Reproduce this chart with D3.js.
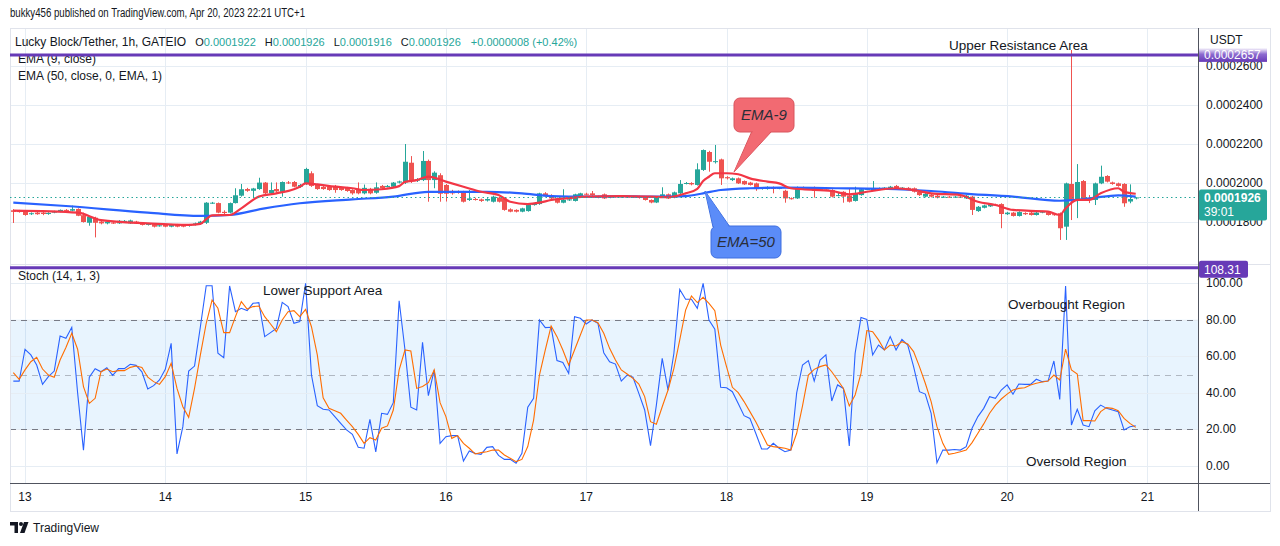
<!DOCTYPE html>
<html>
<head>
<meta charset="utf-8">
<script src="https://cdn.jsdelivr.net/npm/d3@7"></script>
<style>
  body { margin: 0; background: #fff; }
  svg { display: block; font-family: "Liberation Sans", Arial, sans-serif; }
</style>
</head>
<body>
<svg id="chart" width="1280" height="546"></svg>
<script>
// hourly candles, first one Apr 12 22:00, last one Apr 20 22:00
const firstCandle = Date.UTC(2023, 3, 12, 22);

const open = [
  0.0001860,0.0001858,0.0001853,0.0001840,0.0001848,0.0001848,0.0001841,0.0001848,0.0001853,0.0001862,
  0.0001858,0.0001867,0.0001835,0.0001796,0.0001822,0.0001802,0.0001793,0.0001797,0.0001793,0.0001797,
  0.0001793,0.0001802,0.0001793,0.0001785,0.0001789,0.0001781,0.0001785,0.0001776,0.0001785,0.0001785,
  0.0001781,0.0001785,0.0001791,0.0001796,0.0001897,0.0001897,0.0001852,0.0001848,0.0001897,0.0001935,
  0.0001969,0.0001960,0.0001969,0.0002002,0.0001947,0.0001969,0.0001955,0.0002003,0.0002005,0.0001981,
  0.0001995,0.0002050,0.0001990,0.0001980,0.0001980,0.0001985,0.0001975,0.0001975,0.0001964,0.0001964,
  0.0001947,0.0001970,0.0001950,0.0001985,0.0001981,0.0001981,0.0002002,0.0002003,0.0002104,0.0002012,
  0.0002015,0.0002113,0.0002015,0.0002040,0.0001990,0.0001959,0.0001959,0.0001955,0.0001913,0.0001918,
  0.0001916,0.0001910,0.0001904,0.0001925,0.0001921,0.0001865,0.0001862,0.0001853,0.0001856,0.0001887,
  0.0001892,0.0001947,0.0001938,0.0001921,0.0001899,0.0001913,0.0001908,0.0001930,0.0001945,0.0001947,
  0.0001925,0.0001942,0.0001925,0.0001933,0.0001928,0.0001931,0.0001927,0.0001930,0.0001928,0.0001913,
  0.0001900,0.0001930,0.0001942,0.0001925,0.0001947,0.0001997,0.0002000,0.0001990,0.0002067,0.0002159,
  0.0002107,0.0002121,0.0002030,0.0002015,0.0002024,0.0002010,0.0002002,0.0001998,0.0001970,0.0001969,
  0.0001978,0.0001972,0.0001960,0.0001922,0.0001921,0.0001978,0.0001975,0.0001978,0.0001966,0.0001972,
  0.0001964,0.0001935,0.0001955,0.0001935,0.0001908,0.0001938,0.0001968,0.0001964,0.0001970,0.0001973,
  0.0001969,0.0001985,0.0001973,0.0001975,0.0001973,0.0001955,0.0001930,0.0001940,0.0001935,0.0001928,
  0.0001930,0.0001928,0.0001930,0.0001921,0.0001930,0.0001856,0.0001873,0.0001880,0.0001890,0.0001892,
  0.0001840,0.0001848,0.0001831,0.0001846,0.0001848,0.0001836,0.0001848,0.0001850,0.0001840,0.0001845,
  0.0001776,0.0001995,0.0001918,0.0002010,0.0001921,0.0001913,0.0001998,0.0002036,0.0002003,0.0001998,
  0.0001995,0.0001905,0.0001922
];
const high = [
  0.0001866,0.0001862,0.0001857,0.0001849,0.0001856,0.0001852,0.0001850,0.0001858,0.0001864,0.0001866,
  0.0001884,0.0001870,0.0001848,0.0001830,0.0001827,0.0001806,0.0001805,0.0001802,0.0001810,0.0001810,
  0.0001812,0.0001806,0.0001797,0.0001795,0.0001793,0.0001786,0.0001788,0.0001790,0.0001790,0.0001788,
  0.0001789,0.0001797,0.0001806,0.0001902,0.0001903,0.0001900,0.0001860,0.0001900,0.0001973,0.0001995,
  0.0001975,0.0001975,0.0002027,0.0002005,0.0002003,0.0002003,0.0002008,0.0002010,0.0002010,0.0001995,
  0.0002078,0.0002060,0.0001995,0.0001985,0.0001985,0.0001990,0.0001980,0.0001980,0.0001968,0.0002003,
  0.0001992,0.0001975,0.0002003,0.0001990,0.0001990,0.0002005,0.0002012,0.0002200,0.0002138,0.0002025,
  0.0002164,0.0002120,0.0002060,0.0002050,0.0001995,0.0001965,0.0001962,0.0001960,0.0001964,0.0001925,
  0.0001920,0.0001922,0.0001935,0.0001930,0.0001925,0.0001870,0.0001865,0.0001873,0.0001890,0.0001895,
  0.0001950,0.0001953,0.0001942,0.0001925,0.0001968,0.0001920,0.0001945,0.0001950,0.0001950,0.0001959,
  0.0001935,0.0001946,0.0001936,0.0001937,0.0001935,0.0001934,0.0001934,0.0001934,0.0001932,0.0001916,
  0.0001933,0.0001978,0.0001946,0.0001956,0.0002015,0.0002005,0.0002004,0.0002101,0.0002172,0.0002165,
  0.0002195,0.0002125,0.0002035,0.0002028,0.0002028,0.0002013,0.0002006,0.0002002,0.0001978,0.0001983,
  0.0001982,0.0001978,0.0001965,0.0001926,0.0001982,0.0001982,0.0001979,0.0001982,0.0001976,0.0001976,
  0.0001968,0.0001952,0.0001958,0.0001973,0.0001981,0.0001972,0.0001974,0.0002010,0.0001977,0.0001979,
  0.0001985,0.0001990,0.0001979,0.0001979,0.0001977,0.0001959,0.0001948,0.0001944,0.0001939,0.0001933,
  0.0001933,0.0001933,0.0001933,0.0001939,0.0001934,0.0001882,0.0001889,0.0001896,0.0001894,0.0001896,
  0.0001852,0.0001852,0.0001855,0.0001850,0.0001852,0.0001852,0.0001857,0.0001854,0.0001844,0.0001849,
  0.0002002,0.0002682,0.0002097,0.0002015,0.0001938,0.0002002,0.0002089,0.0002040,0.0002007,0.0002002,
  0.0001999,0.0001993,0.0001926
];
const low = [
  0.0001795,0.0001848,0.0001832,0.0001836,0.0001837,0.0001835,0.0001837,0.0001845,0.0001850,0.0001855,
  0.0001855,0.0001830,0.0001797,0.0001781,0.0001721,0.0001788,0.0001788,0.0001790,0.0001790,0.0001795,
  0.0001790,0.0001790,0.0001782,0.0001782,0.0001772,0.0001776,0.0001773,0.0001773,0.0001773,0.0001773,
  0.0001776,0.0001782,0.0001788,0.0001790,0.0001893,0.0001845,0.0001840,0.0001845,0.0001895,0.0001930,
  0.0001955,0.0001925,0.0001965,0.0001942,0.0001944,0.0001950,0.0001930,0.0001995,0.0001978,0.0001975,
  0.0001990,0.0001980,0.0001965,0.0001965,0.0001960,0.0001950,0.0001960,0.0001955,0.0001940,0.0001942,
  0.0001942,0.0001942,0.0001945,0.0001970,0.0001978,0.0001978,0.0001998,0.0001995,0.0002000,0.0002005,
  0.0002010,0.0001904,0.0001973,0.0001904,0.0001905,0.0001940,0.0001945,0.0001900,0.0001908,0.0001910,
  0.0001903,0.0001905,0.0001900,0.0001900,0.0001858,0.0001850,0.0001849,0.0001850,0.0001853,0.0001884,
  0.0001888,0.0001930,0.0001918,0.0001895,0.0001896,0.0001908,0.0001905,0.0001927,0.0001937,0.0001935,
  0.0001922,0.0001918,0.0001922,0.0001925,0.0001925,0.0001924,0.0001924,0.0001920,0.0001910,0.0001896,
  0.0001897,0.0001927,0.0001918,0.0001922,0.0001944,0.0001993,0.0001988,0.0001987,0.0002062,0.0002058,
  0.0002100,0.0001990,0.0002018,0.0002010,0.0001995,0.0001990,0.0001987,0.0001960,0.0001966,0.0001966,
  0.0001947,0.0001968,0.0001899,0.0001915,0.0001918,0.0001972,0.0001965,0.0001925,0.0001962,0.0001966,
  0.0001926,0.0001932,0.0001899,0.0001900,0.0001905,0.0001935,0.0001964,0.0001960,0.0001966,0.0001969,
  0.0001966,0.0001964,0.0001969,0.0001967,0.0001951,0.0001934,0.0001926,0.0001926,0.0001921,0.0001924,
  0.0001925,0.0001925,0.0001924,0.0001918,0.0001836,0.0001852,0.0001870,0.0001877,0.0001882,0.0001768,
  0.0001836,0.0001828,0.0001828,0.0001836,0.0001833,0.0001833,0.0001845,0.0001833,0.0001832,0.0001708,
  0.0001708,0.0001810,0.0001820,0.0001912,0.0001897,0.0001887,0.0001994,0.0002003,0.0001991,0.0001981,
  0.0001878,0.0001896,0.0001916
];
const close = [
  0.0001852,0.0001851,0.0001836,0.0001845,0.0001840,0.0001841,0.0001846,0.0001854,0.0001862,0.0001858,
  0.0001866,0.0001832,0.0001800,0.0001827,0.0001796,0.0001793,0.0001802,0.0001793,0.0001806,0.0001806,
  0.0001808,0.0001793,0.0001785,0.0001793,0.0001776,0.0001783,0.0001776,0.0001785,0.0001776,0.0001776,
  0.0001786,0.0001793,0.0001802,0.0001899,0.0001899,0.0001848,0.0001846,0.0001897,0.0001937,0.0001968,
  0.0001960,0.0001972,0.0002002,0.0001947,0.0001964,0.0001957,0.0002005,0.0002000,0.0001981,0.0001990,
  0.0002072,0.0001985,0.0001969,0.0001969,0.0001964,0.0001964,0.0001964,0.0001959,0.0001947,0.0001947,
  0.0001975,0.0001947,0.0001978,0.0001973,0.0001985,0.0002002,0.0002008,0.0002109,0.0002010,0.0002019,
  0.0002113,0.0002015,0.0002053,0.0001945,0.0001945,0.0001947,0.0001950,0.0001904,0.0001921,0.0001916,
  0.0001908,0.0001918,0.0001930,0.0001904,0.0001862,0.0001853,0.0001853,0.0001870,0.0001887,0.0001892,
  0.0001947,0.0001933,0.0001921,0.0001899,0.0001913,0.0001916,0.0001942,0.0001947,0.0001940,0.0001938,
  0.0001932,0.0001921,0.0001933,0.0001928,0.0001931,0.0001927,0.0001930,0.0001924,0.0001913,0.0001900,
  0.0001930,0.0001942,0.0001921,0.0001952,0.0001995,0.0002000,0.0001993,0.0002070,0.0002169,0.0002109,
  0.0002112,0.0002024,0.0002024,0.0002024,0.0001998,0.0001993,0.0001990,0.0001969,0.0001975,0.0001980,
  0.0001970,0.0001975,0.0001921,0.0001918,0.0001978,0.0001975,0.0001969,0.0001960,0.0001973,0.0001970,
  0.0001930,0.0001938,0.0001930,0.0001904,0.0001947,0.0001968,0.0001970,0.0001973,0.0001973,0.0001976,
  0.0001981,0.0001968,0.0001976,0.0001971,0.0001955,0.0001938,0.0001944,0.0001930,0.0001925,0.0001930,
  0.0001928,0.0001930,0.0001927,0.0001935,0.0001862,0.0001878,0.0001885,0.0001892,0.0001885,0.0001841,
  0.0001848,0.0001831,0.0001851,0.0001840,0.0001836,0.0001848,0.0001853,0.0001836,0.0001836,0.0001768,
  0.0001998,0.0001909,0.0002005,0.0001918,0.0001913,0.0001998,0.0002032,0.0002007,0.0001995,0.0001985,
  0.0001896,0.0001918,0.0001926
];

// EMA lines, hours counted from Apr 13 00:00
const ema9Hours = [-2,9,13,21,28,30,31,32,35,37,40,43,46,47,48,50,53,56,58,61,64,65,67,69,72,75,78,81,83,86,88,90,93,96,102,107,110,113,115,116,117,118,120,122,124,127,129,131,133,138,141,144,149,152,155,160,163,166,169,175,177,178,180,182,184,187,188,190];
const ema9Values = [0.0001858,0.0001848,0.0001810,0.0001793,0.0001785,0.0001790,0.0001815,0.0001834,0.0001836,0.0001870,0.0001930,0.0001947,0.0001968,0.0001981,0.0001998,0.0001993,0.0001981,0.0001973,0.0001964,0.0001968,0.0001984,0.0002006,0.0002015,0.0002033,0.0002007,0.0001981,0.0001955,0.0001938,0.0001904,0.0001892,0.0001899,0.0001913,0.0001922,0.0001930,0.0001933,0.0001930,0.0001927,0.0001947,0.0001970,0.0002010,0.0002032,0.0002050,0.0002050,0.0002045,0.0002024,0.0002007,0.0001998,0.0001973,0.0001968,0.0001959,0.0001942,0.0001955,0.0001973,0.0001964,0.0001947,0.0001938,0.0001904,0.0001887,0.0001862,0.0001853,0.0001836,0.0001870,0.0001913,0.0001913,0.0001947,0.0001973,0.0001955,0.0001945];
const ema50Hours = [-2,7,21,30,35,41,47,56,63,69,79,85,90,96,102,107,113,116,119,124,130,139,149,155,160,169,177,180,183,187,190];
const ema50Values = [0.0001899,0.0001882,0.0001848,0.0001831,0.0001836,0.0001870,0.0001896,0.0001916,0.0001930,0.0001955,0.0001955,0.0001947,0.0001933,0.0001930,0.0001933,0.0001930,0.0001933,0.0001947,0.0001964,0.0001973,0.0001976,0.0001973,0.0001968,0.0001959,0.0001947,0.0001930,0.0001909,0.0001913,0.0001925,0.0001937,0.0001930];

// Stoch (14, 1, 3): %K and %D per candle
const stochK = [
  46.4,46.4,63.8,60.7,55.2,44.6,48.8,51.9,71.0,69.8,
  75.8,40.0,8.6,48.5,53.2,51.5,53.7,49.5,53.2,53.2,
  55.6,55.0,51.5,42.1,43.9,47.0,52.8,67.0,6.6,21.5,
  51.9,54.6,76.1,98.5,98.5,61.6,59.2,98.4,84.3,86.2,
  84.9,88.9,89.3,70.7,72.9,75.2,89.4,87.1,78.0,78.9,
  99.8,49.7,33.0,31.0,30.6,27.0,23.3,19.7,17.3,10.2,
  9.7,25.5,7.7,28.8,28.2,34.6,90.3,63.4,32.1,30.6,
  67.6,38.4,52.5,12.4,16.0,16.6,16.6,2.7,8.2,6.9,
  6.4,10.2,10.6,5.8,3.6,3.6,1.5,6.9,32.1,37.0,
  79.8,75.6,75.8,57.6,56.6,50.6,81.6,80.7,77.6,79.8,
  78.0,61.9,57.0,55.7,46.4,49.7,48.5,39.7,30.6,11.1,
  33.3,58.8,41.5,61.6,96.5,91.1,91.1,86.2,99.8,79.8,
  74.7,43.0,42.8,40.6,34.2,27.5,26.0,17.9,9.3,9.3,
  12.4,9.7,7.8,8.7,40.0,55.2,57.6,46.4,57.9,60.7,
  35.5,44.3,42.4,10.9,61.6,81.1,80.1,60.7,66.1,63.4,
  70.7,63.4,69.2,66.1,54.3,40.6,39.3,28.8,1.8,8.7,
  8.7,9.0,8.7,10.6,20.6,27.0,31.5,37.9,37.0,41.5,
  44.3,39.2,44.8,44.6,44.6,47.4,46.1,46.4,57.4,36.4,
  98.4,22.4,31.0,22.4,21.5,30.2,33.3,31.5,30.6,29.7,
  19.7,21.5,22.0
];
const stochD = [
  51.0,47.4,52.5,57.0,59.4,53.0,49.7,48.5,57.9,64.8,
  72.5,63.8,43.4,34.2,37.0,51.5,53.0,51.5,52.1,52.1,
  53.9,54.6,53.9,48.5,46.1,44.6,48.8,56.1,42.4,32.4,
  26.6,42.4,60.7,78.0,90.7,86.2,72.9,72.9,81.6,89.8,
  85.8,87.1,87.4,81.6,77.6,73.4,79.8,84.3,84.9,81.6,
  85.6,76.1,60.7,37.3,31.5,30.2,28.8,25.1,21.5,17.3,
  12.4,15.5,14.2,20.6,21.9,30.6,52.5,63.4,62.8,42.4,
  43.4,45.5,52.5,34.6,27.0,15.1,16.6,12.4,9.7,6.6,
  7.3,7.8,8.7,8.7,6.0,4.2,2.4,3.6,10.6,25.1,
  49.7,63.4,76.5,70.7,63.4,55.2,63.4,71.6,79.8,79.8,
  78.3,72.5,64.3,57.9,52.5,50.3,47.9,44.8,37.9,24.2,
  22.8,32.4,41.5,53.4,68.9,85.2,92.9,89.3,92.2,88.9,
  84.9,66.1,54.3,43.0,40.1,35.2,29.7,24.2,17.9,11.5,
  10.6,10.2,9.7,8.7,17.9,32.8,49.7,52.8,54.3,55.2,
  51.5,47.0,42.4,32.8,38.8,50.6,74.0,73.4,68.9,63.4,
  66.1,65.6,67.9,66.7,62.5,54.3,45.2,35.2,21.5,12.4,
  6.4,7.0,7.8,8.7,12.8,17.9,23.0,28.8,33.3,36.6,
  39.3,41.5,42.4,42.8,44.3,45.2,45.9,46.4,49.7,47.0,
  63.9,52.5,50.3,24.8,24.8,24.6,29.7,31.9,31.5,30.2,
  26.0,23.3,21.1
];

const priceTicks = [0.00018, 0.00020, 0.00022, 0.00024, 0.00026];
const stochTicks = [0, 20, 40, 60, 80, 100];
const resistanceLevel = 0.0002657;
const stochLevel = 108.31;

const hour = 3600e3;
const dayZero = Date.UTC(2023, 3, 13);
const times = close.map((_, i) => new Date(firstCandle + i * hour));

const left = 10, axisX = 1198, outerRight = 1270;
const priceTop = 28, priceBottom = 264, stochTop = 265, stochBottom = 483, frameBottom = 511;

const up = "#26a69a", down = "#ef5350", gridC = "#e6edf4";

const x = d3.scaleUtc()
  .domain([new Date(dayZero - 2.566 * hour), new Date(dayZero + 200.65 * hour)])
  .range([left, axisX]);
const yP = d3.scaleLinear().domain([0.00018, 0.00026]).range([222, 66]);
const yS = d3.scaleLinear().domain([0, 100]).range([466, 283]);
const px = v => Math.round(v) + 0.5;

const svg = d3.select("#chart");
const defs = svg.append("defs");
defs.append("clipPath").attr("id", "clipPrice").append("rect")
  .attr("x", left).attr("y", priceTop).attr("width", axisX - left).attr("height", priceBottom - priceTop);
defs.append("clipPath").attr("id", "clipStoch").append("rect")
  .attr("x", left).attr("y", stochTop).attr("width", axisX - left).attr("height", stochBottom - stochTop);
const grad = defs.append("linearGradient").attr("id", "purpleFade").attr("x1", 0).attr("y1", 0).attr("x2", 0).attr("y2", 1);
grad.append("stop").attr("offset", "0%").attr("stop-color", "#ffffff");
grad.append("stop").attr("offset", "45%").attr("stop-color", "#8d6bd0");
grad.append("stop").attr("offset", "100%").attr("stop-color", "#673ab7");

// header
svg.append("text").attr("x", 10).attr("y", 17).attr("font-size", 12).attr("fill", "#131722")
  .attr("textLength", 295).attr("lengthAdjust", "spacingAndGlyphs")
  .text("bukky456 published on TradingView.com, Apr 20, 2023 22:21 UTC+1");

// grid
const dayTicks = x.ticks(d3.utcDay.every(1));
svg.append("g").selectAll("line").data(dayTicks).join("line")
  .attr("x1", d => px(x(d))).attr("x2", d => px(x(d)))
  .attr("y1", priceTop).attr("y2", stochBottom)
  .attr("stroke", gridC);
svg.append("g").selectAll("line").data(priceTicks).join("line")
  .attr("x1", left).attr("x2", axisX).attr("y1", d => px(yP(d))).attr("y2", d => px(yP(d)))
  .attr("stroke", gridC);

// stoch band + levels
svg.append("rect").attr("x", left).attr("width", axisX - left)
  .attr("y", yS(80)).attr("height", yS(20) - yS(80)).attr("fill", "#2196f3").attr("fill-opacity", 0.1);
svg.append("g").selectAll("line").data(stochTicks).join("line")
  .attr("x1", left).attr("x2", axisX).attr("y1", d => px(yS(d))).attr("y2", d => px(yS(d)))
  .attr("stroke", gridC);
svg.append("g").selectAll("line").data([80, 50, 20]).join("line")
  .attr("x1", left).attr("x2", axisX).attr("y1", d => px(yS(d))).attr("y2", d => px(yS(d)))
  .attr("stroke", "#787b86").attr("stroke-opacity", d => d === 50 ? 0.5 : 1)
  .attr("stroke-dasharray", "6,5");

// frame
const frame = svg.append("g").attr("fill", "none");
frame.append("rect").attr("x", left + 0.5).attr("y", priceTop + 0.5)
  .attr("width", outerRight - left).attr("height", frameBottom - priceTop).attr("stroke", "#e0e3eb");
frame.append("line").attr("x1", left).attr("x2", outerRight).attr("y1", priceBottom + 0.5).attr("y2", priceBottom + 0.5)
  .attr("stroke", "#e0e3eb");
frame.append("line").attr("x1", left).attr("x2", outerRight).attr("y1", stochBottom + 0.5).attr("y2", stochBottom + 0.5)
  .attr("stroke", "#50535e");
frame.append("line").attr("x1", axisX + 0.5).attr("x2", axisX + 0.5).attr("y1", priceTop).attr("y2", frameBottom)
  .attr("stroke", "#50535e");

// legend texts
const legend = svg.append("text").attr("x", 15).attr("y", 46).attr("font-size", 12).attr("fill", "#131722");
const n = close.length - 1;
const chg = close[n] - close[n - 1];
const fmtP = d3.format(".7f");
legend.append("tspan").text("Lucky Block/Tether, 1h, GATEIO");
[["O", "#131722", 9], [fmtP(open[n]), up, 0],
 ["H", "#131722", 9], [fmtP(high[n]), up, 0],
 ["L", "#131722", 9], [fmtP(low[n]), up, 0],
 ["C", "#131722", 9], [fmtP(close[n]), up, 0],
 [d3.format("+.7f")(chg) + " (" + d3.format("+.2f")(chg / close[n - 1] * 100) + "%)", up, 10]
].forEach(([t, c, dx]) => legend.append("tspan").attr("dx", dx).attr("font-size", 11).attr("fill", c).text(t));
svg.append("text").attr("x", 18).attr("y", 63).attr("font-size", 12).attr("fill", "#131722").text("EMA (9, close)");
svg.append("text").attr("x", 18).attr("y", 80).attr("font-size", 12).attr("fill", "#131722").text("EMA (50, close, 0, EMA, 1)");
svg.append("text").attr("x", 18).attr("y", 280).attr("font-size", 12).attr("fill", "#131722").text("Stoch (14, 1, 3)");

// candles
const idx = d3.range(close.length);
const gc = svg.append("g").attr("clip-path", "url(#clipPrice)");
gc.selectAll("line").data(idx).join("line")
  .attr("x1", i => px(x(times[i]))).attr("x2", i => px(x(times[i])))
  .attr("y1", i => yP(high[i])).attr("y2", i => yP(low[i]))
  .attr("stroke", i => close[i] >= open[i] ? up : down);
gc.selectAll("rect").data(idx).join("rect")
  .attr("x", i => Math.round(x(times[i])) - 2).attr("width", 5)
  .attr("y", i => yP(Math.max(open[i], close[i])))
  .attr("height", i => Math.max(1, Math.abs(yP(open[i]) - yP(close[i]))))
  .attr("fill", i => close[i] >= open[i] ? up : down);

// EMA lines
const emaLine = d3.line().x(d => x(new Date(dayZero + d[0] * hour))).y(d => yP(d[1])).curve(d3.curveMonotoneX);
gc.append("path").attr("d", emaLine(d3.zip(ema50Hours, ema50Values)))
  .attr("fill", "none").attr("stroke", "#2962ff").attr("stroke-width", 2.2);
gc.append("path").attr("d", emaLine(d3.zip(ema9Hours, ema9Values)))
  .attr("fill", "none").attr("stroke", "#f23645").attr("stroke-width", 2.2);

// last price and horizontal levels
svg.append("line").attr("x1", left).attr("x2", axisX)
  .attr("y1", px(yP(close[n]))).attr("y2", px(yP(close[n])))
  .attr("stroke", up).attr("stroke-dasharray", "1.5,3");
svg.append("line").attr("x1", left).attr("x2", axisX).attr("y1", yP(resistanceLevel)).attr("y2", yP(resistanceLevel))
  .attr("stroke", "#673ab7").attr("stroke-width", 3);
svg.append("line").attr("x1", left).attr("x2", axisX).attr("y1", yS(stochLevel)).attr("y2", yS(stochLevel))
  .attr("stroke", "#673ab7").attr("stroke-width", 3);

// stochastic lines
const gs = svg.append("g").attr("clip-path", "url(#clipStoch)").attr("fill", "none");
const stochLine = d3.line().x((d, i) => x(times[i])).y(d => yS(d));
gs.append("path").attr("d", stochLine(stochK)).attr("stroke", "#2962ff").attr("stroke-width", 1.1);
gs.append("path").attr("d", stochLine(stochD)).attr("stroke", "#ff6d00").attr("stroke-width", 1.1);

// annotations
const note = (t, xx, yy) => svg.append("text").attr("x", xx).attr("y", yy).attr("font-size", 13.5)
  .attr("fill", "#131722").text(t);
note("Upper Resistance Area", 949, 50);
note("Lower Support Area", 263, 295);
note("Overbought Region", 1008, 309);
note("Oversold Region", 1026, 466);

// callouts
const callout = (label, box, tip, base, fill, stroke) => {
  const g = svg.append("g");
  g.append("path").attr("d", `M${base[0]},${base[1]}L${tip[0]},${tip[1]}L${base[2]},${base[3]}Z`)
    .attr("fill", fill).attr("stroke", stroke);
  g.append("rect").attr("x", box[0]).attr("y", box[1]).attr("width", box[2]).attr("height", box[3])
    .attr("rx", 6).attr("fill", fill).attr("stroke", stroke);
  g.append("path").attr("d", `M${base[0] + 1},${base[1]}L${tip[0]},${tip[1]}L${base[2] - 1},${base[3]}`)
    .attr("fill", fill);
  g.append("text").attr("x", box[0] + box[2] / 2).attr("y", box[1] + box[3] / 2 + 5)
    .attr("text-anchor", "middle").attr("font-size", 15).attr("font-style", "italic").attr("fill", "#2a2e39")
    .text(label);
};
callout("EMA-9", [734, 98, 60, 34], [734, 172], [752, 131, 772, 131], "#f26a72", "#d9545c");
callout("EMA=50", [711, 226, 70, 32], [705, 191], [713, 227, 730, 227], "#5b8cf8", "#3f6fe0");

// right axis labels
const ax = svg.append("g").attr("font-size", 12).attr("fill", "#131722");
ax.append("text").attr("x", 1210).attr("y", 44).text("USDT");
ax.selectAll("text.p").data(priceTicks).join("text").attr("class", "p")
  .attr("x", 1206).attr("y", d => yP(d) + 4).text(d => fmtP(d));
ax.selectAll("text.s").data(stochTicks).join("text").attr("class", "s")
  .attr("x", 1206).attr("y", d => yS(d) + 4).text(d => d3.format(".2f")(d));

// axis badges
svg.append("rect").attr("x", axisX + 1).attr("y", yP(resistanceLevel) - 7).attr("width", 68).attr("height", 14)
  .attr("fill", "url(#purpleFade)");
svg.append("text").attr("x", 1204).attr("y", yP(resistanceLevel) + 4).attr("font-size", 12).attr("fill", "#fff")
  .text(fmtP(resistanceLevel));
svg.append("rect").attr("x", axisX + 1).attr("y", yP(close[n]) - 8).attr("width", 68).attr("height", 31).attr("rx", 2)
  .attr("fill", up);
svg.append("text").attr("x", 1204).attr("y", yP(close[n]) + 5).attr("font-size", 12).attr("font-weight", "bold")
  .attr("fill", "#fff").text(fmtP(close[n]));
svg.append("text").attr("x", 1204).attr("y", yP(close[n]) + 19).attr("font-size", 12).attr("fill", "#fff").text("39:01");
svg.append("rect").attr("x", axisX + 1).attr("y", yS(stochLevel) - 7).attr("width", 49).attr("height", 17).attr("rx", 2)
  .attr("fill", "#673ab7");
svg.append("text").attr("x", 1204).attr("y", yS(stochLevel) + 6).attr("font-size", 12).attr("fill", "#fff")
  .text(d3.format(".2f")(stochLevel));

// time axis labels
svg.append("g").attr("font-size", 12).attr("fill", "#131722").attr("text-anchor", "middle")
  .selectAll("text").data(dayTicks).join("text")
  .attr("x", d => x(d)).attr("y", 501).text(d3.utcFormat("%-d"));

// TradingView mark
const logo = svg.append("g").attr("fill", "#131722");
logo.append("path").attr("d", "M10,522h8v11h-3.5v-7.5H10Z");
logo.append("circle").attr("cx", 21).attr("cy", 524).attr("r", 2);
logo.append("path").attr("d", "M24,522h4.5l-4,11H20Z");
svg.append("text").attr("x", 33).attr("y", 532).attr("font-size", 12).attr("fill", "#131722").text("TradingView");
</script>
</body>
</html>
